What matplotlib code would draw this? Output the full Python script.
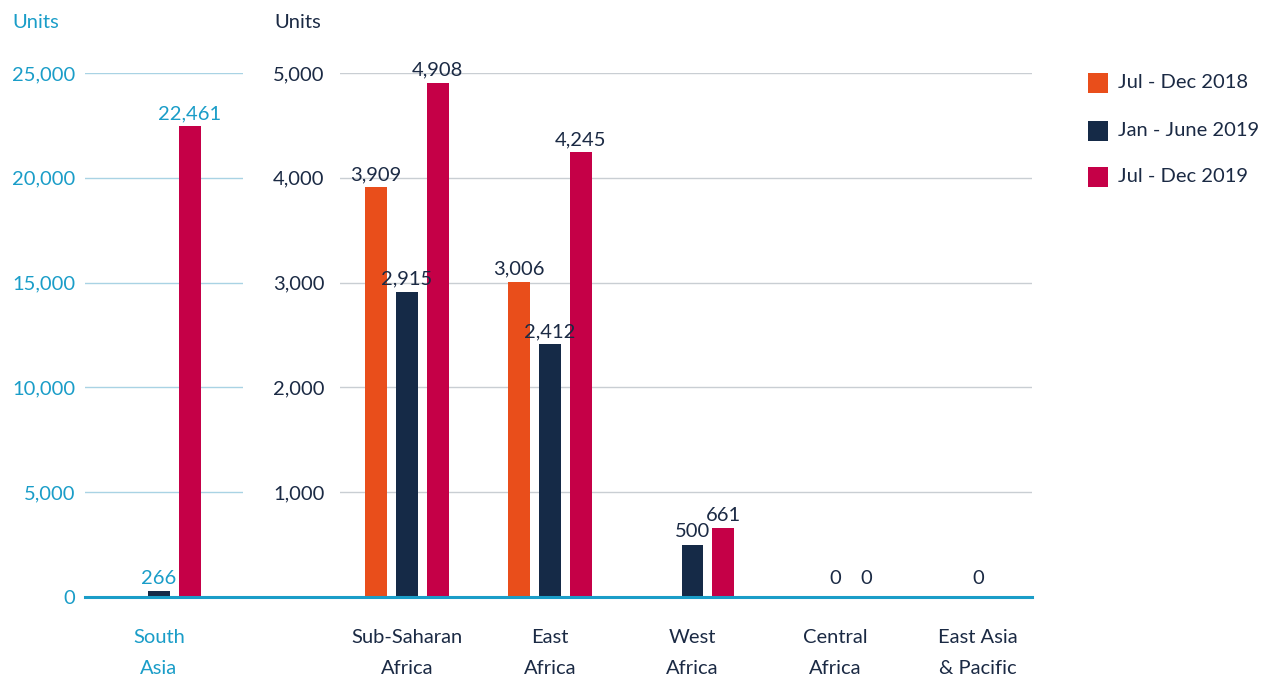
import matplotlib
matplotlib.use("Agg")
import matplotlib.pyplot as plt
from matplotlib.patches import Rectangle
from matplotlib.lines import Line2D

plt.rcParams['font.family'] = ['Lato', 'DejaVu Sans']

series = ["Jul - Dec 2018", "Jan - June 2019", "Jul - Dec 2019"]
colors = ["#E94E1B", "#152A47", "#C50047"]

left_cats = ["South\nAsia"]
left_vals = [[None], [266], [22461]]

right_cats = ["Sub-Saharan\nAfrica", "East\nAfrica", "West\nAfrica", "Central\nAfrica", "East Asia\n& Pacific"]
right_vals = [
    [3909, 3006, None, None, None],
    [2915, 2412, 500, 0, 0],
    [4908, 4245, 661, 0, None],
]

left_ticks = [0, 5000, 10000, 15000, 20000, 25000]
right_ticks = [1000, 2000, 3000, 4000, 5000]
right_tick_labels = ["1,000", "2,000", "3,000", "4,000", "5,000"]

TEAL = "#1A9DC8"
DARK = "#1B2A44"
W, H = 1273, 679

fig = plt.figure(figsize=(W / 100, H / 100), dpi=100)

y0 = 597
ytop = 73
axL = fig.add_axes([85 / W, (H - y0) / H, 158 / W, (y0 - ytop) / H])
axR = fig.add_axes([340 / W, (H - y0) / H, 692 / W, (y0 - ytop) / H])

offset = 0.217
width = 0.154
fs = 14.5


def fmt(v):
    return f"{v:,}"


def draw(ax, cats, vals, ymax, label_color, grid_color):
    ax.set_ylim(0, ymax)
    for i, (s, c) in enumerate(zip(series, colors)):
        for j, v in enumerate(vals[i]):
            if v is None:
                continue
            x = j + (i - 1) * offset
            if v > 0:
                ax.bar(x, v, width=width, color=c, zorder=3)
                ax.annotate(fmt(v), (x, v), xytext=(0, 3), textcoords="offset points",
                            ha="center", va="bottom", fontsize=fs, color=label_color,
                            annotation_clip=False, zorder=4)
            else:
                ax.annotate(fmt(v), (x, 0), xytext=(0, 13), textcoords="offset points",
                            ha="center", va="center", fontsize=fs, color=label_color,
                            annotation_clip=False, zorder=4)
    for sp in ax.spines.values():
        sp.set_visible(False)
    ax.tick_params(axis="both", length=0)
    ax.grid(axis="y", color=grid_color, linewidth=1, zorder=0)
    ax.set_axisbelow(True)
    ax.set_xticks([])


draw(axL, left_cats, left_vals, 25000, TEAL, "#A9D3E4")
axL.set_xlim(-0.518, 0.589)
axL.set_yticks(left_ticks)
axL.set_yticklabels([fmt(t) for t in left_ticks], fontsize=fs, color=TEAL)
axL.tick_params(axis="y", pad=7)

draw(axR, right_cats, right_vals, 5000, DARK, "#C9CED3")
axR.set_xlim(-0.469, 4.378)
axR.set_yticks(right_ticks)
axR.set_yticklabels(right_tick_labels, fontsize=fs, color=DARK)
axR.tick_params(axis="y", pad=11)

# category labels
for j, c in enumerate(left_cats):
    axL.text(j, -0.061, c, transform=axL.get_xaxis_transform(), ha="center", va="top",
             fontsize=fs, color=TEAL, linespacing=2.0)
for j, c in enumerate(right_cats):
    axR.text(j, -0.061, c, transform=axR.get_xaxis_transform(), ha="center", va="top",
             fontsize=fs, color=DARK, linespacing=2.0)

# baseline
fig.add_artist(Line2D([85 / W, 1032 / W], [(H - y0) / H, (H - y0) / H],
                      color=TEAL, linewidth=2.2, zorder=5))

# Units labels
fig.text(12 / W, 1 - 22 / H, "Units", ha="left", va="center", fontsize=fs, color=TEAL)
fig.text(274 / W, 1 - 22 / H, "Units", ha="left", va="center", fontsize=fs, color=DARK)

# legend
leg_y = [83, 131, 177]
for s, c, yy in zip(series, colors, leg_y):
    fig.add_artist(Rectangle((1088 / W, 1 - (yy + 10) / H), 20 / W, 20 / H,
                             facecolor=c, edgecolor="none", transform=fig.transFigure))
    fig.text(1118 / W, 1 - yy / H, s, ha="left", va="center", fontsize=fs, color=DARK)

fig.savefig("out.png", dpi=100)
